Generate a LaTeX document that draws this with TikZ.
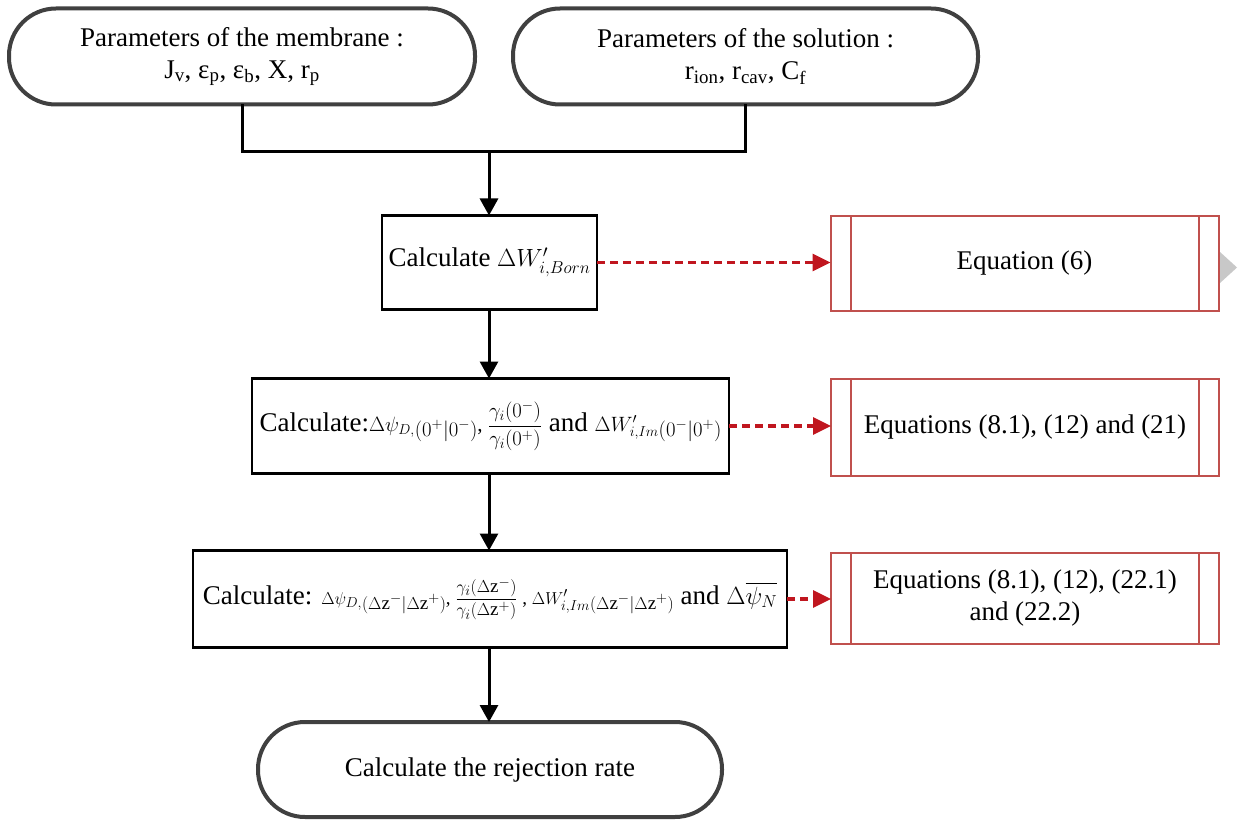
\documentclass[tikz,border=0pt]{standalone}
\usepackage{amsmath}
\usepackage{fontspec}
\setmainfont{Liberation Serif}
\usetikzlibrary{arrows.meta}
\definecolor{boxgray}{HTML}{404040}
\definecolor{eqred}{HTML}{C0504D}
\definecolor{dashred}{HTML}{C0161F}
\definecolor{tipgray}{HTML}{C8C8C8}
\newcommand{\bigtxt}{\fontsize{27}{32}\selectfont}
\newcommand{\mtxt}{\fontsize{23}{27}\selectfont}
\newcommand{\stxt}{\fontsize{21}{24}\selectfont}
\newcommand{\ftxt}{\fontsize{19}{22}\selectfont}
\begin{document}
\begin{tikzpicture}[x=1pt,y=-1pt,
  every node/.style={inner sep=0pt, outer sep=0pt, font=\bigtxt, align=center},
  term/.style={draw=boxgray, line width=4pt, rounded corners=47pt, fill=white},
  procbox/.style={draw=black, line width=2.6pt, fill=white},
  eqbox/.style={draw=eqred, line width=2pt, fill=white},
  eqline/.style={draw=eqred, line width=2pt},
  flow/.style={draw=black, line width=3pt, -{Triangle[length=17pt,width=18pt]}},
  plainflow/.style={draw=black, line width=3pt},
  ref/.style={draw=dashred, line width=3.3pt, dash pattern=on 8pt off 5pt, -{Triangle[length=18pt,width=17pt]}}
]
\useasboundingbox (0,0) rectangle (1239,821);

% terminals
\node[term, minimum width=466pt, minimum height=96pt] (mem) at (242,56.5)
  {Parameters of the membrane :\\J\textsubscript{v}, ε\textsubscript{p}, ε\textsubscript{b}, X, r\textsubscript{p}};
\node[term, minimum width=465pt, minimum height=96pt] (sol) at (745.5,56.5)
  {Parameters of the solution :\\r\textsubscript{ion}, r\textsubscript{cav}, C\textsubscript{f}};
\node[term, minimum width=464pt, minimum height=95pt] (fin) at (490,769.5)
  {Calculate the rejection rate};

% process boxes
\node[procbox, minimum width=215pt, minimum height=94pt] (b1) at (489.5,262.5)
  {Calculate {\mtxt$\Delta W^{\prime}_{i,Born}$}};
\node[procbox, minimum width=477pt, minimum height=95pt] (b2) at (490.5,426)
  {Calculate:{\stxt$\Delta\psi_{D,}$\raisebox{-5pt}{$(0^{+}|0^{-})$}, $\dfrac{\gamma_i(0^{-})}{\gamma_i(0^{+})}$} and {\stxt$\Delta W^{\prime}_{i,Im}$\raisebox{-5pt}{$(0^{-}|0^{+})$}}};
\node[procbox, minimum width=594pt, minimum height=97pt] (b3) at (490,599)
  {Calculate: {\ftxt$\Delta\psi_{D,}$\raisebox{-5pt}{$(\Delta\mathrm{z}^{-}|\Delta\mathrm{z}^{+})$}, $\dfrac{\gamma_i(\Delta\mathrm{z}^{-})}{\gamma_i(\Delta\mathrm{z}^{+})}$ , $\Delta W^{\prime}_{i,Im}$\raisebox{-5pt}{$(\Delta\mathrm{z}^{-}|\Delta\mathrm{z}^{+})$}} and {\mtxt$\Delta\overline{\psi_N}$}};

% equation boxes
\node[eqbox, minimum width=388pt, minimum height=95pt] (e1) at (1024.5,263.5) {Equation (6)};
\node[eqbox, minimum width=388pt, minimum height=97pt] (e2) at (1025,427.5) {Equations (8.1), (12) and (21)};
\node[eqbox, minimum width=388pt, minimum height=91pt] (e3) at (1025,598.5) {Equations (8.1), (12), (22.1)\\and (22.2)};
\foreach \e in {e1,e2,e3}{
  \draw[eqline] ([xshift=20pt]\e.north west) -- ([xshift=20pt]\e.south west);
  \draw[eqline] ([xshift=-20pt]\e.north east) -- ([xshift=-20pt]\e.south east);
}

% small grey marker
\fill[tipgray] (1220,252) -- (1237,267.5) -- (1220,283) -- cycle;

% connectors
\coordinate (j) at (489,152);
\draw[plainflow] (mem.south) -- (mem.south |- j) -- (j);
\draw[plainflow] (sol.south) -- (sol.south |- j) -- (j);
\draw[flow] (j) -- (j |- b1.north);
\draw[flow] (b1.south -| j) -- (j |- b2.north);
\draw[flow] (b2.south -| j) -- (j |- b3.north);
\draw[flow] (b3.south -| j) -- (j |- fin.north);

\draw[ref] (b1.east) -- (e1.west |- b1.east);
\draw[ref] (b2.east) -- (e2.west |- b2.east);
\draw[ref] (b3.east) -- (e3.west |- b3.east);
\end{tikzpicture}
\end{document}
